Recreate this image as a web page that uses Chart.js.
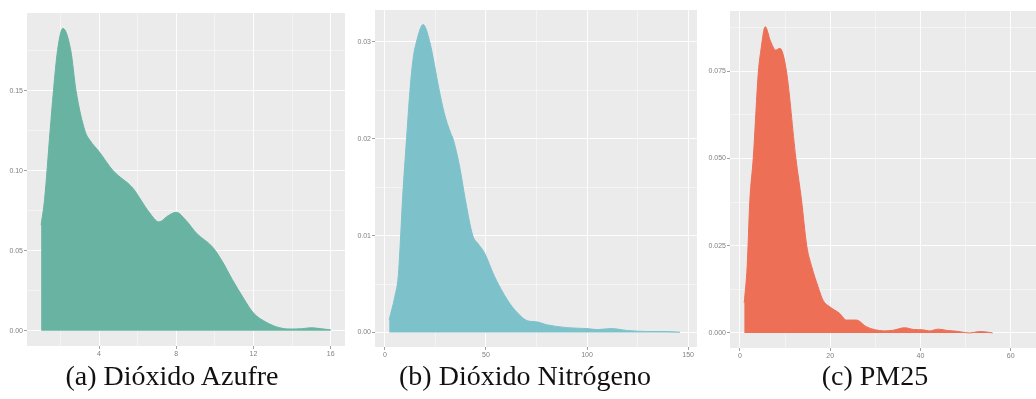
<!DOCTYPE html>
<html>
<head>
<meta charset="utf-8">
<script src="https://cdn.jsdelivr.net/npm/chart.js@4.4.1/dist/chart.umd.min.js"></script>
<style>
  body { margin: 0; background: #fff; width: 1036px; height: 399px; overflow: hidden; position: relative; }
  canvas { position: absolute; top: 0; }
  .cap { position: absolute; top: 362px; font-family: "Liberation Serif", serif; font-size: 28px; line-height: 28px; color: #111; text-align: center; white-space: nowrap; }
</style>
</head>
<body>
<canvas id="so2" width="345" height="366" style="left:0px"></canvas>
<canvas id="no2" width="352" height="367" style="left:345px"></canvas>
<canvas id="pm25" width="339" height="368" style="left:697px"></canvas>
<div class="cap" style="left:22px;width:300px">(a) Dióxido Azufre</div>
<div class="cap" style="left:375px;width:300px">(b) Dióxido Nitrógeno</div>
<div class="cap" style="left:775px;width:200px">(c) PM25</div>

<script>
// density curves
var so2X = [1.0, 1.18, 1.46, 1.64, 1.85, 2.13, 2.54, 2.81, 3.27, 3.53, 4.0, 4.73, 5.76, 6.1, 6.6, 7.1, 7.6, 8.0, 8.5, 9.04, 9.9, 10.4, 10.9, 11.5, 12.0, 12.7, 13.3, 13.9, 14.5, 15.0, 15.5, 16.0];
var so2Y = [0.066, 0.082, 0.124, 0.15, 0.175, 0.189, 0.175, 0.15, 0.125, 0.119, 0.112, 0.100, 0.089, 0.083, 0.074, 0.068, 0.072, 0.074, 0.069, 0.061, 0.052, 0.043, 0.032, 0.020, 0.011, 0.005, 0.002, 0.001, 0.0012, 0.0018, 0.0012, 0.0005];

var no2X = [2.1, 4.9, 6.6, 7.6, 8.7, 10.7, 12.4, 13.9, 15.6, 18.9, 22.2, 26.8, 29.3, 32.5, 33.7, 37.0, 39.8, 43.5, 46.0, 49.3, 54.2, 60.8, 65.7, 70.6, 75, 80, 90, 100, 105, 112, 120, 130, 138, 146];
var no2Y = [0.0013, 0.0037, 0.0058, 0.0092, 0.0137, 0.020, 0.025, 0.0282, 0.030, 0.0318, 0.030, 0.0251, 0.0227, 0.0206, 0.020, 0.0171, 0.0137, 0.010, 0.0092, 0.0082, 0.0058, 0.0033, 0.002, 0.0012, 0.0011, 0.0008, 0.0005, 0.0004, 0.0003, 0.0004, 0.0002, 0.0001, 0.0001, 0.00003];

var pmX = [0.95, 1.6, 2.2, 2.95, 4.1, 4.65, 5.6, 6.8, 7.96, 8.85, 10.3, 12.4, 13.65, 14.8, 15.9, 17.3, 18.4, 19.9, 22.1, 23.6, 25.8, 28, 30, 32, 34, 36.5, 38.5, 40.5, 42, 44, 46, 48, 50, 51, 53, 54.5, 56];
var pmY = [0.0086, 0.019, 0.038, 0.050, 0.075, 0.081, 0.0877, 0.0835, 0.081, 0.0815, 0.075, 0.050, 0.038, 0.025, 0.019, 0.0133, 0.0094, 0.0075, 0.0056, 0.0037, 0.0037, 0.0018, 0.0009, 0.0006, 0.0008, 0.0015, 0.0010, 0.0009, 0.0006, 0.0011, 0.0007, 0.0005, 0.0001, 0.0, 0.0004, 0.0003, 0.0];

// axis breaks (major get labels, minor only grid lines)
var so2XMajor = [4, 8, 12, 16];
var so2XMinor = [2, 6, 10, 14];
var so2YMajor = [0, 0.05, 0.10, 0.15];
var so2YMinor = [0.025, 0.075, 0.125, 0.175];

var no2XMajor = [0, 50, 100, 150];
var no2XMinor = [25, 75, 125];
var no2YMajor = [0, 0.01, 0.02, 0.03];
var no2YMinor = [0.005, 0.015, 0.025];

var pmXMajor = [0, 20, 40, 60];
var pmXMinor = [10, 30, 50];
var pmYMajor = [0, 0.025, 0.05, 0.075];
var pmYMinor = [0.0125, 0.0375, 0.0625, 0.0875];

// grey panel like ggplot
var panelBg = {
    id: 'panelBg',
    beforeDraw: function(chart) {
        var a = chart.chartArea;
        var ctx = chart.ctx;
        ctx.save();
        ctx.fillStyle = '#EBEBEB';
        ctx.fillRect(a.left, a.top, a.right - a.left, a.bottom - a.top);
        ctx.restore();
    }
};

function setTicks(major, minor) {
    return function(axis) {
        var list = [];
        major.forEach(function(v) { list.push({ value: v, major: true }); });
        minor.forEach(function(v) { list.push({ value: v, major: false }); });
        list.sort(function(a, b) { return a.value - b.value; });
        axis.ticks = list;
    };
}

function scaleOpts(min, max, major, minor, digits, size, horizontal) {
    return {
        type: 'linear',
        min: min,
        max: max,
        afterBuildTicks: setTicks(major, minor),
        afterFit: function(s) {
            if (horizontal) s.height = size; else s.width = size;
            s.paddingLeft = 0; s.paddingRight = 0; s.paddingTop = 0; s.paddingBottom = 0;
        },
        border: { display: false },
        grid: {
            color: 'rgba(255,255,255,0.9)',
            lineWidth: function(c) { return c.tick && c.tick.major ? 1 : 0.5; },
            tickColor: function(c) { return c.tick && c.tick.major ? '#a0a0a0' : 'rgba(0,0,0,0)'; },
            tickWidth: 1,
            tickLength: 3
        },
        ticks: {
            autoSkip: false,
            maxRotation: 0,
            padding: 1,
            color: '#808080',
            font: { family: 'Liberation Sans', size: 7 },
            callback: function(v, i, t) { return t[i].major ? v.toFixed(digits) : ''; }
        }
    };
}

function densityChart(id, xs, ys, color, p) {
    var pts = xs.map(function(x, i) { return { x: x, y: ys[i] }; });
    return new Chart(document.getElementById(id), {
        type: 'line',
        data: {
            datasets: [{
                data: pts,
                fill: 'origin',
                backgroundColor: color,
                borderColor: color,
                borderWidth: 1,
                pointRadius: 0,
                cubicInterpolationMode: 'monotone'
            }]
        },
        options: {
            responsive: false,
            animation: false,
            layout: { padding: { top: p.top, left: 0, right: 0, bottom: 0 } },
            plugins: { legend: { display: false }, tooltip: { enabled: false } },
            scales: {
                x: scaleOpts(p.xMin, p.xMax, p.xMajor, p.xMinor, 0, 20, true),
                y: scaleOpts(p.yMin, p.yMax, p.yMajor, p.yMinor, p.digits, p.yWidth, false)
            }
        },
        plugins: [panelBg]
    });
}

densityChart('so2', so2X, so2Y, '#69B3A2', {
    top: 13, yWidth: 27, digits: 2,
    xMin: 0.27, xMax: 16.74, yMin: -0.0096, yMax: 0.1986,
    xMajor: so2XMajor, xMinor: so2XMinor, yMajor: so2YMajor, yMinor: so2YMinor
});

densityChart('no2', no2X, no2Y, '#7DC2CB', {
    top: 10, yWidth: 30, digits: 2,
    xMin: -4.9, xMax: 154.4, yMin: -0.0015, yMax: 0.0333,
    xMajor: no2XMajor, xMinor: no2XMinor, yMajor: no2YMajor, yMinor: no2YMinor
});

densityChart('pm25', pmX, pmY, '#EC6F56', {
    top: 11, yWidth: 33, digits: 3,
    xMin: -2.2, xMax: 65.6, yMin: -0.0043, yMax: 0.0922,
    xMajor: pmXMajor, xMinor: pmXMinor, yMajor: pmYMajor, yMinor: pmYMinor
});
</script>
</body>
</html>
